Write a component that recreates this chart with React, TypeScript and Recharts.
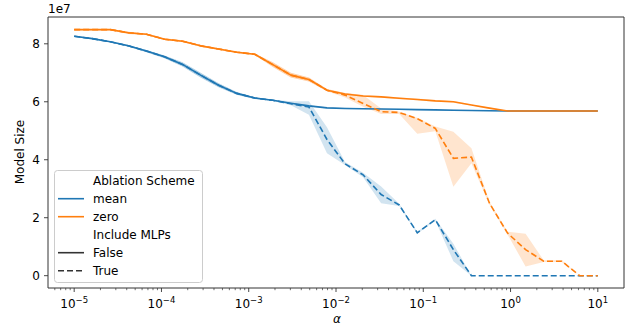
import { Area, ComposedChart, Legend, Line, ReferenceArea, XAxis, YAxis } from 'recharts';

const FONT = '"DejaVu Sans", sans-serif';
const FS = 12;
const BLUE = '#1f77b4';
const ORANGE = '#ff7f0e';

// alpha sweep (30 log-spaced points from 1e-5 to 1e1)
const alphas = [
  1.0e-5, 1.61e-5, 2.593e-5, 4.175e-5, 6.723e-5, 1.083e-4, 1.743e-4, 2.807e-4, 4.52e-4, 7.279e-4,
  1.172e-3, 1.887e-3, 3.039e-3, 4.894e-3, 7.88e-3, 1.269e-2, 2.043e-2, 3.29e-2, 5.298e-2, 8.532e-2,
  0.1374, 0.2212, 0.3562, 0.5736, 0.9237, 1.487, 2.395, 3.857, 6.21, 10,
];

// model size, in units of 1e7
const meanFalse = [
  8.26, 8.18, 8.07, 7.93, 7.75, 7.55, 7.29, 6.92, 6.57, 6.29,
  6.13, 6.05, 5.95, 5.86, 5.79, 5.77, 5.76, 5.75, 5.74, 5.73,
  5.72, 5.71, 5.7, 5.69, 5.68, 5.68, 5.68, 5.68, 5.68, 5.68,
];
const meanFalseLow = [
  8.24, 8.16, 8.05, 7.9, 7.71, 7.5, 7.22, 6.84, 6.5, 6.24,
  6.1, 6.03, 5.93, 5.84, 5.77, 5.75, 5.74, 5.73, 5.72, 5.71,
  5.7, 5.69, 5.68, 5.67, 5.67, 5.67, 5.67, 5.67, 5.67, 5.67,
];
const meanFalseHigh = [
  8.28, 8.2, 8.09, 7.96, 7.79, 7.6, 7.36, 7.0, 6.64, 6.34,
  6.16, 6.07, 5.97, 5.88, 5.81, 5.79, 5.78, 5.77, 5.76, 5.75,
  5.74, 5.73, 5.72, 5.71, 5.69, 5.69, 5.69, 5.69, 5.69, 5.69,
];

const meanTrue = [
  8.26, 8.18, 8.07, 7.93, 7.75, 7.55, 7.29, 6.92, 6.57, 6.29,
  6.13, 6.05, 5.93, 5.82, 4.7, 3.86, 3.48, 2.8, 2.44, 1.48,
  1.93, 0.9, 0, 0, 0, 0, 0, 0, 0, 0,
];
const meanTrueLow = [
  8.24, 8.16, 8.05, 7.9, 7.71, 7.5, 7.22, 6.84, 6.5, 6.24,
  6.1, 6.03, 5.88, 5.55, 4.22, 3.82, 3.4, 2.5, 2.4, 1.45,
  1.9, 0.5, 0, 0, 0, 0, 0, 0, 0, 0,
];
const meanTrueHigh = [
  8.28, 8.2, 8.09, 7.96, 7.79, 7.6, 7.36, 7.0, 6.64, 6.34,
  6.16, 6.07, 6.02, 6.02, 5.12, 3.92, 3.55, 3.08, 2.48, 1.52,
  1.96, 1.1, 0, 0, 0, 0, 0, 0, 0, 0,
];

const zeroFalse = [
  8.49, 8.49, 8.49, 8.38, 8.33, 8.16, 8.09, 7.93, 7.82, 7.71,
  7.64, 7.28, 6.92, 6.77, 6.4, 6.27, 6.2, 6.17, 6.12, 6.08,
  6.03, 6.0, 5.89, 5.78, 5.68, 5.68, 5.68, 5.68, 5.68, 5.68,
];
const zeroFalseLow = [
  8.47, 8.47, 8.47, 8.34, 8.3, 8.13, 8.06, 7.9, 7.79, 7.68,
  7.61, 7.2, 6.84, 6.7, 6.36, 6.24, 6.17, 6.14, 6.09, 6.05,
  6.0, 5.97, 5.87, 5.76, 5.67, 5.67, 5.67, 5.67, 5.67, 5.67,
];
const zeroFalseHigh = [
  8.51, 8.51, 8.51, 8.42, 8.36, 8.19, 8.12, 7.96, 7.85, 7.74,
  7.67, 7.36, 7.0, 6.84, 6.44, 6.3, 6.23, 6.2, 6.15, 6.11,
  6.06, 6.03, 5.91, 5.8, 5.69, 5.69, 5.69, 5.69, 5.69, 5.69,
];

const zeroTrue = [
  8.49, 8.49, 8.49, 8.38, 8.33, 8.16, 8.09, 7.93, 7.82, 7.71,
  7.64, 7.28, 6.92, 6.77, 6.4, 6.23, 5.94, 5.66, 5.63, 5.42,
  5.08, 4.05, 4.09, 2.5, 1.47, 0.9, 0.5, 0.5, 0, 0,
];
const zeroTrueLow = [
  8.47, 8.47, 8.47, 8.34, 8.3, 8.13, 8.06, 7.9, 7.79, 7.68,
  7.61, 7.2, 6.84, 6.7, 6.36, 6.15, 5.83, 5.58, 5.58, 4.9,
  4.98, 3.07, 3.88, 2.45, 1.42, 0.32, 0.47, 0.47, 0, 0,
];
const zeroTrueHigh = [
  8.51, 8.51, 8.51, 8.42, 8.36, 8.19, 8.12, 7.96, 7.85, 7.74,
  7.67, 7.36, 7.0, 6.84, 6.44, 6.3, 6.23, 5.77, 5.66, 5.45,
  5.15, 4.97, 4.4, 2.55, 1.52, 1.45, 0.53, 0.53, 0, 0,
];

const majorTicks = [1e-5, 1e-4, 1e-3, 1e-2, 1e-1, 1, 10];
const minorTicks = [
  6e-6, 7e-6, 8e-6, 9e-6,
  2e-5, 3e-5, 4e-5, 5e-5, 6e-5, 7e-5, 8e-5, 9e-5,
  2e-4, 3e-4, 4e-4, 5e-4, 6e-4, 7e-4, 8e-4, 9e-4,
  2e-3, 3e-3, 4e-3, 5e-3, 6e-3, 7e-3, 8e-3, 9e-3,
  2e-2, 3e-2, 4e-2, 5e-2, 6e-2, 7e-2, 8e-2, 9e-2,
  0.2, 0.3, 0.4, 0.5, 0.6, 0.7, 0.8, 0.9,
  2, 3, 4, 5, 6, 7, 8, 9,
];
const yTicks = [0, 2, 4, 6, 8];

const schemes = ['mean', 'zero'];
const mlpFlags = ['False', 'True'];

const xDomain = [10 ** -5.3, 10 ** 1.3];
const yDomain = [-0.425, 8.925];

const MARGIN = { top: 17, right: 7, bottom: 0, left: 0 };
const X_AXIS_H = 41;
const PLOT_BOTTOM = 329 - X_AXIS_H;

const rows = alphas.map((alpha, i) => ({
  alpha,
  meanFalse: meanFalse[i],
  meanTrue: meanTrue[i],
  zeroFalse: zeroFalse[i],
  zeroTrue: zeroTrue[i],
  meanFalseBand: [meanFalseLow[i], meanFalseHigh[i]],
  meanTrueBand: [meanTrueLow[i], meanTrueHigh[i]],
  zeroFalseBand: [zeroFalseLow[i], zeroFalseHigh[i]],
  zeroTrueBand: [zeroTrueLow[i], zeroTrueHigh[i]],
}));

function XTick(props: any) {
  const { x, payload } = props;
  const v = payload.value;
  const isMajor = majorTicks.includes(v);
  if (!isMajor) {
    return <line x1={x} x2={x} y1={PLOT_BOTTOM} y2={PLOT_BOTTOM + 2.2} stroke="#333" strokeWidth={0.7} />;
  }
  const exp = Math.round(Math.log10(v));
  return (
    <g>
      <line x1={x} x2={x} y1={PLOT_BOTTOM} y2={PLOT_BOTTOM + 4} stroke="#333" strokeWidth={0.9} />
      <text x={x} y={PLOT_BOTTOM + 20} textAnchor="middle" fontSize={FS} fontFamily={FONT} fill="#000">
        <tspan>10</tspan>
        <tspan dy={-5} fontSize={8.5}>{exp < 0 ? `\u2212${-exp}` : `${exp}`}</tspan>
      </text>
    </g>
  );
}

function LegendBox() {
  const handleColor = '#333';
  const items = [
    { label: 'Ablation Scheme' },
    { label: schemes[0], color: BLUE },
    { label: schemes[1], color: ORANGE },
    { label: 'Include MLPs' },
    { label: mlpFlags[0], color: handleColor },
    { label: mlpFlags[1], color: handleColor, dash: '6 3' },
  ];
  return (
    <svg width={150} height={114} style={{ display: 'block', overflow: 'visible' }}>
      <rect x={0.5} y={0.5} width={148} height={112} rx={3} fill="#fff" fillOpacity={0.8} stroke="#ccc" />
      {items.map((it, i) => {
        const cy = 10.7 + i * 18;
        return (
          <g key={it.label}>
            {it.color && (
              <line x1={4} x2={30} y1={cy} y2={cy} stroke={it.color} strokeWidth={1.6} strokeDasharray={it.dash} />
            )}
            <text x={39} y={cy + 4.3} fontSize={FS} fontFamily={FONT} fill="#000">
              {it.label}
            </text>
          </g>
        );
      })}
    </svg>
  );
}

export default function App() {
  return (
    <div style={{ position: 'absolute', left: 0, top: 0, background: '#fff' }}>
      <ComposedChart width={631} height={329} data={rows} margin={MARGIN} style={{ fontFamily: FONT }}>
        <XAxis
          dataKey="alpha"
          type="number"
          scale="log"
          domain={xDomain}
          allowDataOverflow
          ticks={[...majorTicks, ...minorTicks]}
          interval={0}
          axisLine={false}
          tickLine={false}
          tick={<XTick />}
          height={X_AXIS_H}
          label={{
            content: () => (
              <text x={337} y={323} textAnchor="middle" fontSize={FS} fontStyle="italic" fontFamily={FONT} fill="#000">
                α
              </text>
            ),
          }}
        />
        <YAxis
          type="number"
          domain={yDomain}
          allowDataOverflow
          ticks={yTicks}
          width={48}
          axisLine={false}
          tickSize={4}
          tickMargin={4}
          tickLine={{ stroke: '#333', strokeWidth: 0.9 }}
          tick={{ fontSize: FS, fill: '#000', fontFamily: FONT }}
          label={{
            content: () => (
              <g>
                <text x={24} y={152} transform="rotate(-90 24 152)" textAnchor="middle" fontSize={FS} fontFamily={FONT} fill="#000">
                  Model Size
                </text>
                <text x={48} y={13} fontSize={FS} fontFamily={FONT} fill="#000">
                  1e7
                </text>
              </g>
            ),
          }}
        />

        <Area dataKey="meanFalseBand" type="linear" stroke="none" fill={BLUE} fillOpacity={0.2} isAnimationActive={false} />
        <Area dataKey="meanTrueBand" type="linear" stroke="none" fill={BLUE} fillOpacity={0.2} isAnimationActive={false} />
        <Area dataKey="zeroFalseBand" type="linear" stroke="none" fill={ORANGE} fillOpacity={0.2} isAnimationActive={false} />
        <Area dataKey="zeroTrueBand" type="linear" stroke="none" fill={ORANGE} fillOpacity={0.2} isAnimationActive={false} />

        <Line dataKey="meanFalse" type="linear" stroke={BLUE} strokeWidth={1.6} strokeLinejoin="round" dot={false} isAnimationActive={false} />
        <Line dataKey="meanTrue" type="linear" stroke={BLUE} strokeWidth={1.6} strokeDasharray="6 3" dot={false} isAnimationActive={false} />
        <Line dataKey="zeroFalse" type="linear" stroke={ORANGE} strokeWidth={1.6} strokeLinejoin="round" dot={false} isAnimationActive={false} />
        <Line dataKey="zeroTrue" type="linear" stroke={ORANGE} strokeWidth={1.6} strokeDasharray="6 3" dot={false} isAnimationActive={false} />

        <ReferenceArea
          x1={xDomain[0]}
          x2={xDomain[1]}
          y1={yDomain[0]}
          y2={yDomain[1]}
          fill="none"
          stroke="#333"
          strokeWidth={1}
          ifOverflow="visible"
        />

        <Legend
          layout="vertical"
          align="center"
          verticalAlign="middle"
          wrapperStyle={{ left: 54, top: 170, width: 150, height: 114 }}
          content={() => <LegendBox />}
        />
      </ComposedChart>
    </div>
  );
}
